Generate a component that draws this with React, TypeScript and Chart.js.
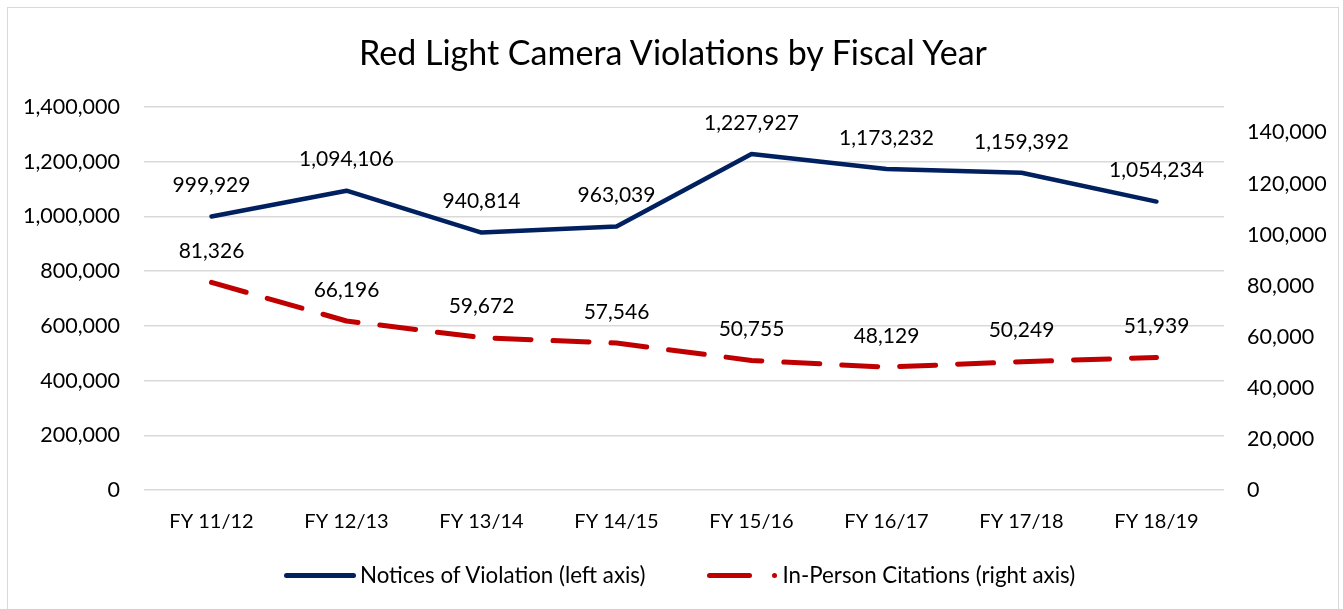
import React, { useEffect, useRef } from "react";
import { Chart, registerables } from "chart.js";

Chart.register(...registerables);

const categories = ["FY 11/12", "FY 12/13", "FY 13/14", "FY 14/15", "FY 15/16", "FY 16/17", "FY 17/18", "FY 18/19"];
const noticesOfViolation = [999929, 1094106, 940814, 963039, 1227927, 1173232, 1159392, 1054234];
const inPersonCitations = [81326, 66196, 59672, 57546, 50755, 48129, 50249, 51939];
const leftAxisMax = 1400000;
const leftAxisStep = 200000;
const rightAxisMax = 150000;
const rightAxisTicks = [0, 20000, 40000, 60000, 80000, 100000, 120000, 140000];

const FONT = "Lato";
const fmt = (v: number) => v.toLocaleString("en-US");

const dataLabelPlugin = {
  id: "dataLabels",
  afterDatasetsDraw(chart: any) {
    const ctx = chart.ctx;
    ctx.save();
    ctx.font = `21px ${FONT}`;
    ctx.fillStyle = "#000";
    ctx.textAlign = "center";
    ctx.textBaseline = "middle";
    chart.data.datasets.forEach((ds: any, i: number) => {
      const meta = chart.getDatasetMeta(i);
      meta.data.forEach((pt: any, j: number) => {
        ctx.fillText(fmt(ds.data[j]), pt.x, pt.y - 31);
      });
    });
    ctx.restore();
  },
};

export default function App() {
  const ref = useRef<HTMLCanvasElement>(null);
  useEffect(() => {
    if (!ref.current) return;
    const chart = new Chart(ref.current, {
      type: "line",
      data: {
        labels: categories,
        datasets: [
          {
            label: "Notices of Violation (left axis)",
            data: noticesOfViolation,
            borderColor: "#002060",
            backgroundColor: "#002060",
            borderWidth: 4.5,
            pointRadius: 0,
            tension: 0,
            yAxisID: "y",
            borderCapStyle: "round",
            borderJoinStyle: "round",
          },
          {
            label: "In-Person Citations (right axis)",
            data: inPersonCitations,
            borderColor: "#C00000",
            backgroundColor: "#C00000",
            borderWidth: 5,
            borderDash: [36, 22],
            borderCapStyle: "round",
            borderJoinStyle: "round",
            pointRadius: 0,
            tension: 0,
            yAxisID: "y1",
          },
        ],
      },
      options: {
        animation: false,
        responsive: false,
        layout: { padding: { top: 99, bottom: 76, left: 0, right: 0 } },
        plugins: { legend: { display: false }, title: { display: false }, tooltip: { enabled: false } },
        scales: {
          x: {
            offset: true,
            grid: { display: false, drawTicks: false },
            border: { display: false },
            ticks: { color: "#000", font: { family: FONT, size: 20 }, padding: 20, maxRotation: 0 },
            afterFit: (s: any) => { s.height = 60; },
          },
          y: {
            position: "left",
            min: 0,
            max: leftAxisMax,
            grid: { color: "#d9d9d9", lineWidth: 1.5, drawTicks: false },
            border: { display: false },
            ticks: { stepSize: leftAxisStep, color: "#000", font: { family: FONT, size: 21.5 }, padding: 24, callback: (v: any) => fmt(Number(v)) },
            afterFit: (s: any) => { s.width = 136; },
          },
          y1: {
            position: "right",
            min: 0,
            max: rightAxisMax,
            grid: { display: false, drawTicks: false },
            border: { display: false },
            ticks: { color: "#000", font: { family: FONT, size: 21.5 }, padding: 23, callback: (v: any) => fmt(Number(v)) },
            afterBuildTicks: (s: any) => { s.ticks = rightAxisTicks.map((v) => ({ value: v })); },
            afterFit: (s: any) => { s.width = 114; },
          },
        },
      },
      plugins: [dataLabelPlugin],
    });
    return () => chart.destroy();
  }, []);

  return (
    <div style={{ position: "absolute", left: 7, top: 7, width: 1332, height: 620, border: "1px solid #d9d9d9", boxSizing: "border-box", background: "#fff" }}>
      <canvas ref={ref} width={1330} height={618} style={{ position: "absolute", left: 0, top: 0 }} />
      <div style={{ position: "absolute", left: 0, width: 1330, top: 24, textAlign: "center", fontFamily: FONT, fontSize: 34, color: "#000", lineHeight: "40px" }}>
        Red Light Camera Violations by Fiscal Year
      </div>
      <div style={{ position: "absolute", left: 276, top: 553, display: "flex", alignItems: "center", fontFamily: FONT, fontSize: 22.3, color: "#000", lineHeight: "28px", whiteSpace: "nowrap" }}>
        <div style={{ width: 72, height: 5, borderRadius: 3, background: "#002060", marginRight: 4 }} />
        <span>Notices of Violation (left axis)</span>
        <div style={{ width: 45, height: 5, borderRadius: 3, background: "#C00000", marginLeft: 62 }} />
        <div style={{ width: 5, height: 5, borderRadius: 3, background: "#C00000", marginLeft: 20, marginRight: 5 }} />
        <span>In-Person Citations (right axis)</span>
      </div>
    </div>
  );
}
